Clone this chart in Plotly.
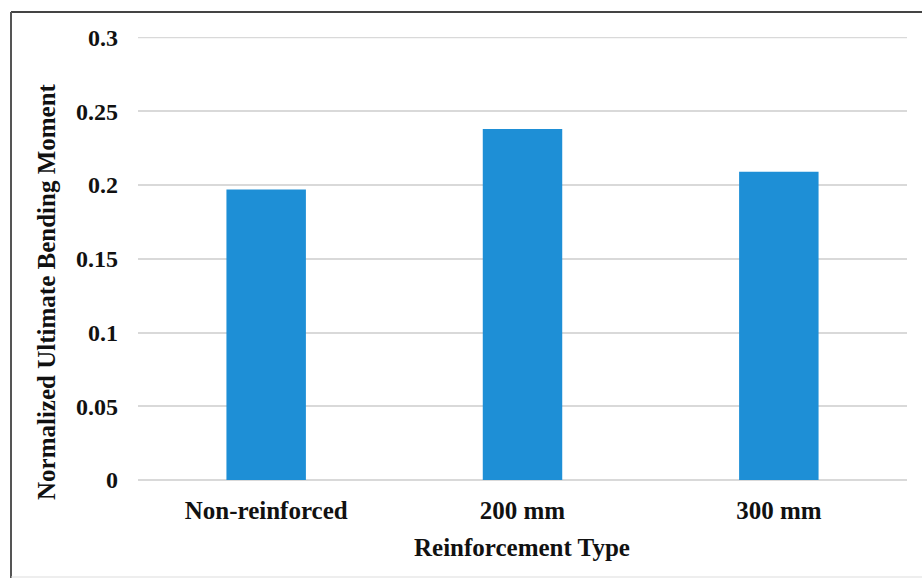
import plotly.graph_objects as go

categories = ["Non-reinforced", "200 mm", "300 mm"]
values = [0.197, 0.238, 0.209]
y_ticks = [0, 0.05, 0.1, 0.15, 0.2, 0.25, 0.3]
y_tick_labels = ["0", "0.05", "0.1", "0.15", "0.2", "0.25", "0.3"]

W, H = 922, 580
L, R, T, B = 138, 15, 37, 100
pw, ph = W - L - R, H - T - B

def px_x(p):
    return (p - L) / pw

def px_y(p):
    return (H - B - p) / ph

font_family = "Liberation Serif, Times New Roman, serif"
txt = "#111111"
grid = "#d9d9d9"

fig = go.Figure(go.Bar(
    x=categories, y=values,
    marker=dict(color="#1e8fd6", line=dict(width=0)),
    width=0.31,
))

fig.update_layout(
    width=W, height=H,
    margin=dict(l=L, r=R, t=T, b=B, pad=0),
    paper_bgcolor="white", plot_bgcolor="white",
    showlegend=False,
    font=dict(family=font_family, color=txt),
    xaxis=dict(
        tickfont=dict(size=25, family=font_family, color=txt),
        tickprefix="<b>", ticksuffix="</b>",
        showgrid=False, showline=False, ticks="", ticklabelstandoff=13,
    ),
    yaxis=dict(
        range=[0, 0.3004],
        tickvals=y_ticks, ticktext=["<b>%s</b>" % t for t in y_tick_labels],
        tickfont=dict(size=24, family=font_family, color=txt),
        showgrid=True, gridcolor=grid, gridwidth=1.5,
        zeroline=True, zerolinecolor=grid, zerolinewidth=1.5,
        showline=False, ticks="", ticklabelstandoff=19,
    ),
    annotations=[
        dict(text="<b>Reinforcement Type</b>", xref="paper", yref="paper",
             x=px_x(522), y=px_y(547), xanchor="center", yanchor="middle", showarrow=False,
             font=dict(size=25, family=font_family, color=txt)),
        dict(text="<b>Normalized Ultimate Bending Moment</b>", xref="paper", yref="paper",
             x=px_x(46), y=px_y(292), xanchor="center", yanchor="middle", showarrow=False,
             textangle=-90, font=dict(size=25, family=font_family, color=txt)),
    ],
    shapes=[
        dict(type="line", xref="paper", yref="y", x0=0, x1=1, y0=y_ticks[-1], y1=y_ticks[-1],
             line=dict(color=grid, width=1.5), layer="below"),
        dict(type="line", xref="paper", yref="paper", x0=px_x(11), x1=px_x(922), y0=px_y(12), y1=px_y(12),
             line=dict(color="#444444", width=2)),
        dict(type="line", xref="paper", yref="paper", x0=px_x(11), x1=px_x(11), y0=px_y(12), y1=px_y(578),
             line=dict(color="#555555", width=2)),
        dict(type="line", xref="paper", yref="paper", x0=px_x(11), x1=px_x(922), y0=px_y(577), y1=px_y(577),
             line=dict(color="#dddddd", width=1)),
    ],
)

fig.write_html("out.html", config={"displayModeBar": False},
               post_script="document.body.style.margin='0';")
